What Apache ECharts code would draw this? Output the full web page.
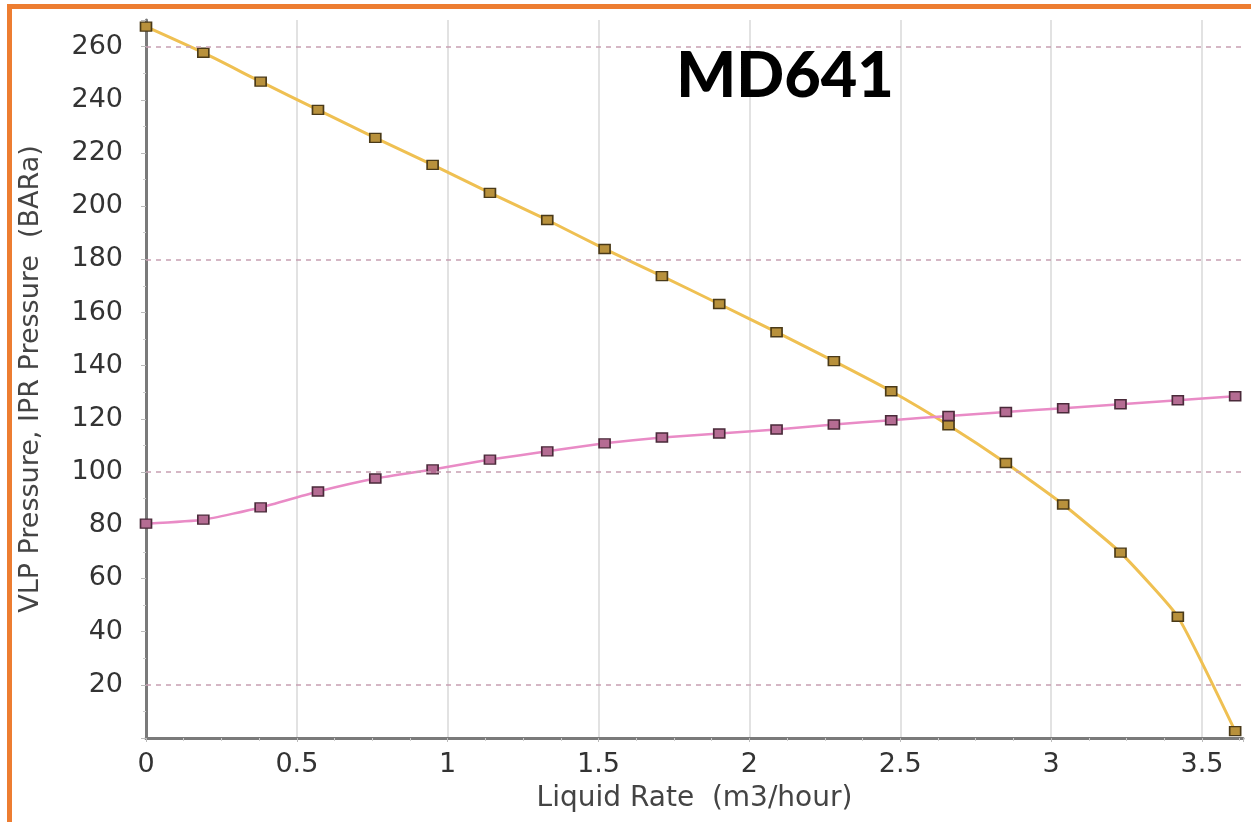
<!DOCTYPE html>
<html><head><meta charset="utf-8">
<script src="https://cdn.jsdelivr.net/npm/echarts@6/dist/echarts.min.js"></script>
<style>html,body{margin:0;padding:0;background:#fff;} #c{width:1251px;height:822px;}</style>
</head><body><div id="c"></div>
<script>
const liquidRate = [0, 0.19, 0.38, 0.57, 0.76, 0.95, 1.14, 1.33, 1.52, 1.71, 1.90, 2.09, 2.28, 2.47, 2.66, 2.85, 3.04, 3.23, 3.42, 3.61];
const iprPressure = [267.5, 257.7, 246.8, 236.2, 225.7, 215.5, 205.0, 194.8, 183.9, 173.7, 163.2, 152.6, 141.7, 130.4, 117.6, 103.4, 87.8, 69.7, 45.6, 2.6];
const vlpPressure = [80.6, 82.1, 86.7, 92.7, 97.6, 101.0, 104.7, 107.8, 110.8, 113.0, 114.5, 116.0, 117.9, 119.5, 121.1, 122.6, 124.0, 125.5, 127.0, 128.5];
const dashedGridValues = [20, 100, 180, 260];
const chartTitle = 'MD641';
const xTitle = 'Liquid Rate  (m3/hour)';
const yTitle = 'VLP Pressure, IPR Pressure  (BARa)';

const chart = echarts.init(document.getElementById('c'), null, {renderer: 'canvas'});
const font = 'DejaVu Sans';
chart.setOption({
  animation: false,
  backgroundColor: '#ffffff',
  grid: {left: 146, right: 8, top: 20, bottom: 84},
  xAxis: {
    type: 'value', min: 0, max: 3.636, interval: 0.5,
    name: xTitle, nameLocation: 'middle', nameGap: 47,
    nameTextStyle: {color: '#444', fontSize: 28, fontFamily: font},
    axisLine: {onZero: false, lineStyle: {color: '#7a7a7a', width: 3}},
    axisTick: {show: true, length: 4, lineStyle: {color: '#bbb'}},
    minorTick: {show: true, splitNumber: 4, length: 3, lineStyle: {color: '#ccc'}},
    splitLine: {show: true, showMinLine: false, showMaxLine: false, lineStyle: {color: '#d9d9d9', width: 1.5}},
    axisLabel: {color: '#333', fontSize: 27, fontFamily: font, margin: 13, showMaxLabel: false}
  },
  yAxis: {
    type: 'value', min: 0, max: 270, interval: 20, offset: 5,
    name: yTitle, nameLocation: 'middle', nameGap: 97, nameRotate: 90,
    nameTextStyle: {color: '#444', fontSize: 27, fontFamily: font},
    axisLine: {show: true, lineStyle: {color: '#7a7a7a', width: 3}},
    axisTick: {show: true, length: 5, lineStyle: {color: '#bbb'}},
    minorTick: {show: true, splitNumber: 2, length: 3, lineStyle: {color: '#ccc'}},
    splitLine: {show: false},
    axisLabel: {color: '#333', fontSize: 27, fontFamily: font, margin: 18, showMinLabel: false, showMaxLabel: false}
  },
  series: [
    {
      name: 'IPR', type: 'line', smooth: 0.15,
      data: liquidRate.map((x, i) => [x, iprPressure[i]]),
      symbol: 'rect', symbolSize: [11, 9], showAllSymbol: true,
      lineStyle: {color: '#EFC052', width: 3},
      itemStyle: {color: '#B8913C', borderColor: '#4a3a18', borderWidth: 1.5},
      z: 3,
      markLine: {
        silent: true, symbol: ['none', 'none'], label: {show: false},
        lineStyle: {color: '#c8a0b2', type: [5, 5], width: 1.5},
        data: dashedGridValues.map(v => ({yAxis: v}))
      }
    },
    {
      name: 'VLP', type: 'line', smooth: 0.15,
      data: liquidRate.map((x, i) => [x, vlpPressure[i]]),
      symbol: 'rect', symbolSize: [11, 9], showAllSymbol: true,
      lineStyle: {color: '#E98BC6', width: 2.5},
      itemStyle: {color: '#B56C93', borderColor: '#4a2a3a', borderWidth: 1.5},
      z: 4
    }
  ],
  graphic: [
    {type: 'rect', left: 7, top: 4, shape: {width: 1244, height: 5}, style: {fill: '#ED7D31'}, z: 100},
    {type: 'rect', left: 7, top: 4, shape: {width: 5, height: 818}, style: {fill: '#ED7D31'}, z: 100},
    {type: 'text', x: 785, y: 77, z: 100,
     style: {text: chartTitle, fill: '#000', font: '900 63px Lato', textAlign: 'center', textVerticalAlign: 'middle'}}
  ]
});
</script></body></html>
